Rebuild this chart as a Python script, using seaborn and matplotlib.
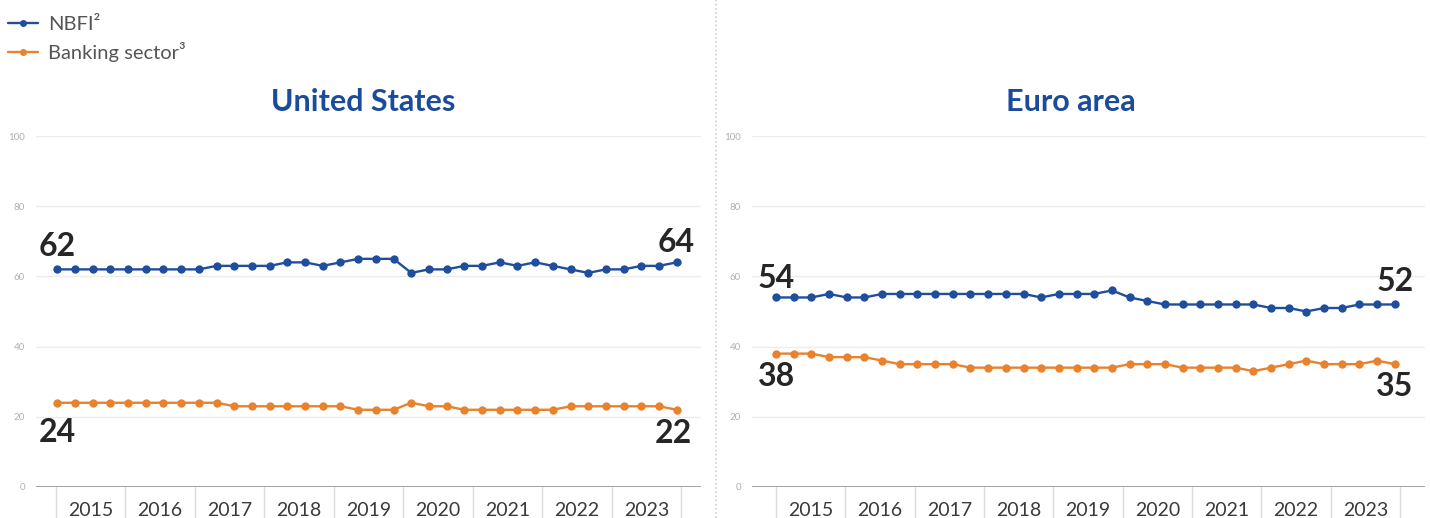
import numpy as np
import pandas as pd
import seaborn as sns
import matplotlib.pyplot as plt
from matplotlib.lines import Line2D
import matplotlib.transforms as mtrans

# ---------------- data ----------------
quarters = [f"{y}Q{q}" for y in range(2015, 2024) for q in range(1, 5)]
years = [str(y) for y in range(2015, 2024)]
series_names = ["NBFI\u00b2", "Banking sector\u00b3"]
panel_titles = ["United States", "Euro area"]

us_nbfi = [62, 62, 62, 62, 62, 62, 62, 62, 62, 63, 63, 63, 63, 64, 64, 63, 64, 65,
           65, 65, 61, 62, 62, 63, 63, 64, 63, 64, 63, 62, 61, 62, 62, 63, 63, 64]
us_bank = [24, 24, 24, 24, 24, 24, 24, 24, 24, 24, 23, 23, 23, 23, 23, 23, 23, 22,
           22, 22, 24, 23, 23, 22, 22, 22, 22, 22, 22, 23, 23, 23, 23, 23, 23, 22]
ea_nbfi = [54, 54, 54, 55, 54, 54, 55, 55, 55, 55, 55, 55, 55, 55, 55, 54, 55, 55,
           55, 56, 54, 53, 52, 52, 52, 52, 52, 52, 51, 51, 50, 51, 51, 52, 52, 52]
ea_bank = [38, 38, 38, 37, 37, 37, 36, 35, 35, 35, 35, 34, 34, 34, 34, 34, 34, 34,
           34, 34, 35, 35, 35, 34, 34, 34, 34, 33, 34, 35, 36, 35, 35, 35, 36, 35]

# ---------------- style ----------------
BLUE = "#1f4e9d"
ORANGE = "#e8822c"
TITLE_BLUE = "#1b4c9c"
GRID = "#ececec"
ZERO = "#9a9a9a"
SEP = "#dcdcdc"

sns.set_theme(style="white")
plt.rcParams['font.family'] = ['Lato', 'DejaVu Sans']

W, H = 1430, 518
fig = plt.figure(figsize=(W / 100, H / 100), dpi=100)


def px_axes(x0, x1, y0=136, y1=487):
    return fig.add_axes([x0 / W, (H - y1) / H, (x1 - x0) / W, (y1 - y0) / H])


panels = [
    dict(ax=px_axes(36, 701), nbfi=us_nbfi, bank=us_bank, title=panel_titles[0],
         xlim=(-1.2, 36.37), seps=np.linspace(-0.07, 35.24, 10), title_x=363,
         offs=[(0, 23), (-1, 20), (0, -30), (-3, -24)]),
    dict(ax=px_axes(752, 1425), nbfi=ea_nbfi, bank=ea_bank, title=panel_titles[1],
         xlim=(-1.36, 36.71), seps=np.linspace(0.0, 35.3, 10), title_x=1071,
         offs=[(0, 19), (0, 23), (0, -23), (0, -22)]),
]

for p in panels:
    ax = p["ax"]
    df = pd.DataFrame({
        "quarter": quarters * 2,
        "value": p["nbfi"] + p["bank"],
        "series": [series_names[0]] * len(quarters) + [series_names[1]] * len(quarters),
    })
    df["t"] = df["quarter"].map({q: i for i, q in enumerate(quarters)})

    # grid lines
    for yv in [20, 40, 60, 80, 100]:
        ax.axhline(yv, color=GRID, lw=1.0, zorder=0)
    ax.axhline(0, color=ZERO, lw=2.0, zorder=1)

    sns.lineplot(data=df, x="t", y="value", hue="series",
                 palette=[BLUE, ORANGE], marker="o", markersize=6,
                 markeredgewidth=0, linewidth=1.7, ax=ax, legend=False,
                 clip_on=False, zorder=3)

    ax.set_xlim(*p["xlim"])
    ax.set_ylim(0, 100)
    ax.set_xlabel("")
    ax.set_ylabel("")
    ax.set_xticks([])
    ax.set_yticks([0, 20, 40, 60, 80, 100])
    ax.tick_params(axis="y", length=0, pad=8, labelsize=7, labelcolor="#b0b0b0")
    for s in ax.spines.values():
        s.set_visible(False)

    # year separators and labels below the axis
    trans = mtrans.blended_transform_factory(ax.transData, ax.transAxes)
    for sx in p["seps"]:
        ax.plot([sx, sx], [0, -0.095], transform=trans, color=SEP, lw=1.0,
                clip_on=False, zorder=0)
    for i, yr in enumerate(years):
        cx = (p["seps"][i] + p["seps"][i + 1]) / 2
        ax.text(cx, -0.083, yr, transform=trans, ha="center", va="baseline",
                fontsize=14, color="#3a3a3a")

    # start / end value annotations
    vals = [(0, p["nbfi"][0]), (len(quarters) - 1, p["nbfi"][-1]),
            (0, p["bank"][0]), (len(quarters) - 1, p["bank"][-1])]
    for (xi, yv), (dx, dy) in zip(vals, p["offs"]):
        ax.annotate(f"{yv}", xy=(xi, yv), xytext=(dx, dy), textcoords="offset pixels",
                    ha="center", va="center", fontsize=23, fontweight="bold",
                    color="#262626")

    fig.text(p["title_x"] / W, (H - 111) / H, p["title"], ha="center", va="baseline",
             fontsize=22, fontweight="bold", color=TITLE_BLUE)

# vertical dotted divider between panels
fig.add_artist(Line2D([716 / W, 716 / W], [0, 1], transform=fig.transFigure,
                      color="#d0d0d0", lw=1.2, ls=(0, (1, 1.5))))

# legend
handles = [Line2D([], [], color=BLUE, marker="o", markersize=4, lw=1.7),
           Line2D([], [], color=ORANGE, marker="o", markersize=4, lw=1.7)]
fig.legend(handles, series_names, loc="upper left", bbox_to_anchor=(8 / W, 1 - 16 / H),
           frameon=False, fontsize=14.5, handlelength=1.5, handletextpad=0.5,
           labelspacing=0.45, borderaxespad=0, borderpad=0, labelcolor="#555555")

fig.savefig("out.png", dpi=100)
